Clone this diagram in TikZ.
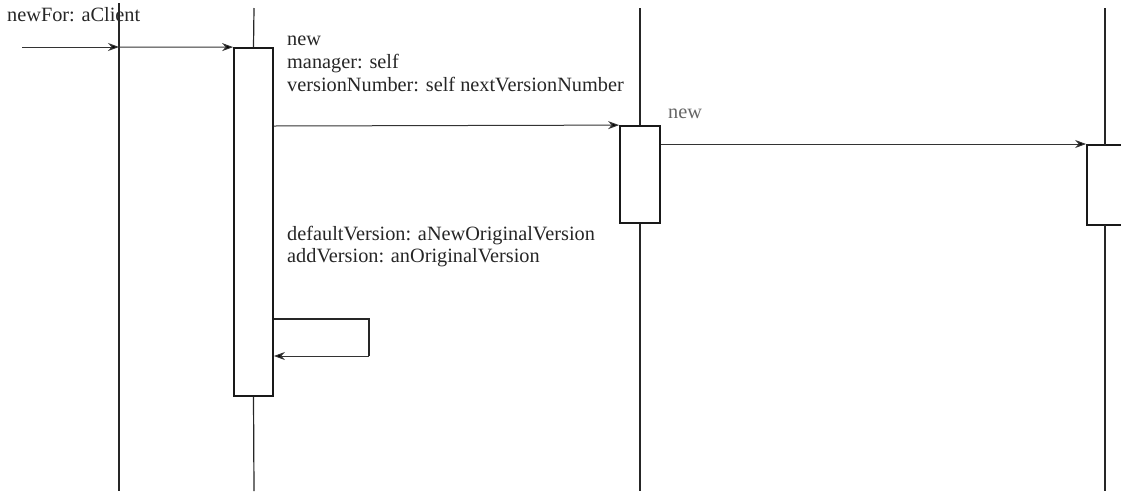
\documentclass[tikz,border=0pt]{standalone}
\usepackage{fontspec}
\setmainfont{Liberation Serif}
\usetikzlibrary{arrows.meta}
\begin{document}
\begin{tikzpicture}[x=1pt,y=-1pt,
  life/.style={line width=1.2pt,draw=black!85},
  actbox/.style={draw=black!90,line width=1.8pt,fill=white,minimum width=39pt,inner sep=0pt},
  msg/.style={line width=1pt,draw=black!80,-{Stealth[length=11pt,width=8pt,fill=black]}},
  lbl/.style={anchor=base west,inner sep=0pt,font=\fontsize{20.3}{22}\selectfont,text=black!85}]
\useasboundingbox (0,0) rectangle (1121,491);
% lifelines
\coordinate (l1t) at (119,3); \coordinate (l1b) at (119,491);
\draw[life] (l1t) -- (l1b);
% activation boxes
\node[actbox,minimum height=348pt] (b1) at (253.5,222) {};
\node[actbox,minimum height=97pt,minimum width=40pt] (b3) at (640,174.5) {};
\node[actbox,minimum height=80pt,minimum width=40pt] (b4) at (1107,185) {};
\coordinate (l2t) at (254,8); \coordinate (l2b) at (254,491);
\coordinate (l3t) at (640,8); \coordinate (l3b) at (640,491);
\coordinate (l4t) at (1105,8); \coordinate (l4b) at (1105,491);
\draw[life] (l2t) -- (b1.north); \draw[life] (b1.south) -- (l2b);
\draw[life] (l3t) -- (b3.north); \draw[life] (b3.south) -- (l3b);
\draw[life] (l4t) -- (1105,145); \draw[life] (1105,225) -- (l4b);
% messages
\coordinate (start) at (22,47);
\coordinate (m1) at (119,47);
\draw[msg] (start) -- (m1);
\draw[msg] (m1) -- (b1.north west);
\draw[msg] (b1.east |- 0,126) -- (b3.north west);
\draw[msg] (b3.east |- 0,144) -- (b4.west |- 0,144);
\coordinate (s1) at (369,319); \coordinate (s2) at (369,356);
\draw[line width=1.5pt,draw=black!85] (b1.east |- s1) -- (s1) -- (s2);
\draw[msg] (s2) -- (b1.east |- s2);
% labels
\node[lbl] (t0) at (7,21) {newFor: aClient};
\node[lbl] (t1a) at (287,45) {new};
\node[lbl] (t1b) at (287,68) {manager: self};
\node[lbl] (t1c) at (287,91) {versionNumber: self nextVersionNumber};
\node[lbl,text=black!60] (t2) at (668,118) {new};
\node[lbl] (t3a) at (287,240) {defaultVersion: aNewOriginalVersion};
\node[lbl] (t3b) at (287,262) {addVersion: anOriginalVersion};
\end{tikzpicture}
\end{document}
